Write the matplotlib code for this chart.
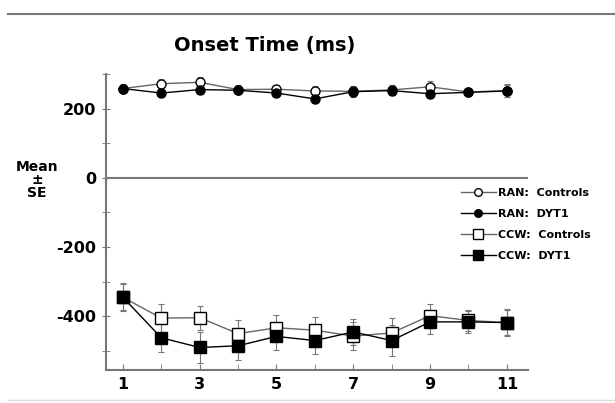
import matplotlib
matplotlib.use("Agg")
import matplotlib.pyplot as plt
from matplotlib.lines import Line2D
import numpy as np

# data
trials = np.arange(1, 12)
ran_controls = [258, 272, 276, 255, 256, 251, 250, 254, 263, 248, 252]
ran_dyt1 = [258, 245, 255, 253, 245, 228, 249, 252, 243, 247, 251]
ran_controls_se = [12, 14, 14, 12, 13, 15, 14, 15, 16, 12, 18]
ran_dyt1_se = [10, 12, 12, 11, 12, 13, 14, 13, 12, 11, 16]
ccw_controls = [-345, -405, -404, -450, -433, -440, -457, -448, -398, -412, -418]
ccw_dyt1 = [-345, -462, -490, -485, -458, -470, -445, -470, -416, -416, -418]
ccw_controls_se = [40, 42, 35, 38, 36, 38, 40, 42, 35, 30, 35]
ccw_dyt1_se = [38, 42, 45, 40, 40, 40, 38, 44, 35, 32, 38]
labels = ["RAN:  Controls", "RAN:  DYT1", "CCW:  Controls", "CCW:  DYT1"]

plt.rcParams["font.family"] = ["DejaVu Sans"]
plt.rcParams["font.weight"] = "bold"
plt.rcParams["axes.unicode_minus"] = False

fig = plt.figure(figsize=(6.15, 4.03), dpi=100)
ax = fig.add_axes([106 / 615, 1 - 370 / 403, 422 / 615, 296 / 403])

ax.axhline(0, color="#777777", lw=1.5, zorder=1)

series = [
    (ran_controls, ran_controls_se, "o", "white", "#666666", 6.5),
    (ran_dyt1, ran_dyt1_se, "o", "black", "black", 6.5),
    (ccw_controls, ccw_controls_se, "s", "white", "#666666", 8),
    (ccw_dyt1, ccw_dyt1_se, "s", "black", "black", 8),
]
handles = []
for (vals, se, mk, face, lc, ms), lab in zip(series, labels):
    ax.errorbar(trials, vals, yerr=se, fmt="none", ecolor="#777777",
                elinewidth=0.8, capsize=2, capthick=0.8, zorder=2)
    ax.plot(trials, vals, color=lc, lw=1.0, zorder=3)
    ax.plot(trials, vals, ls="none", marker=mk, ms=ms, mfc=face,
            mec="black", mew=1.0, zorder=4)
    handles.append(Line2D([], [], color=lc, lw=1.0, marker=mk,
                          ms=ms - 1, mfc=face, mec="black", mew=1.0))

ax.set_xlim(0.56, 11.55)
ax.set_ylim(-555, 300)
ax.set_xticks([1, 3, 5, 7, 9, 11])
ax.set_xticks([2, 4, 6, 8, 10], minor=True)
ax.set_yticks([-400, -200, 0, 200])
ax.set_yticks([-500, -300, -100, 100, 300], minor=True)

for side in ["top", "right"]:
    ax.spines[side].set_visible(False)
for side in ["left", "bottom"]:
    ax.spines[side].set_color("#777777")
    ax.spines[side].set_linewidth(1.5)

ax.tick_params(axis="x", which="both", direction="in", length=4,
               color="#777777", labelsize=11.5, pad=5)
ax.tick_params(axis="y", which="both", direction="inout", length=6,
               color="#777777", labelsize=11.5, pad=4)
for lbl in ax.get_xticklabels() + ax.get_yticklabels():
    lbl.set_fontweight("bold")

fig.text(265 / 615, 1 - 46 / 403, "Onset Time (ms)", ha="center",
         va="center", fontsize=14, fontweight="bold")
fig.text(37 / 615, 1 - 180 / 403, "Mean\n±\nSE", ha="center", va="center",
         fontsize=10, fontweight="bold", linespacing=0.95)

fig.legend(handles, labels, loc="upper left",
           bbox_to_anchor=(455 / 615, 1 - 182 / 403), frameon=False,
           prop={"size": 8, "weight": "bold"}, handlelength=3.2,
           handletextpad=0.2, labelspacing=1.0, borderpad=0)

# thin frame lines at the top and bottom of the scanned figure
fig.add_artist(Line2D([8 / 615, 1], [1 - 14 / 403] * 2, color="#777777",
                      lw=1.5, transform=fig.transFigure))
fig.add_artist(Line2D([8 / 615, 1], [1 - 400 / 403] * 2, color="#dddddd",
                      lw=1.0, transform=fig.transFigure))

fig.savefig("out.png", dpi=100)
